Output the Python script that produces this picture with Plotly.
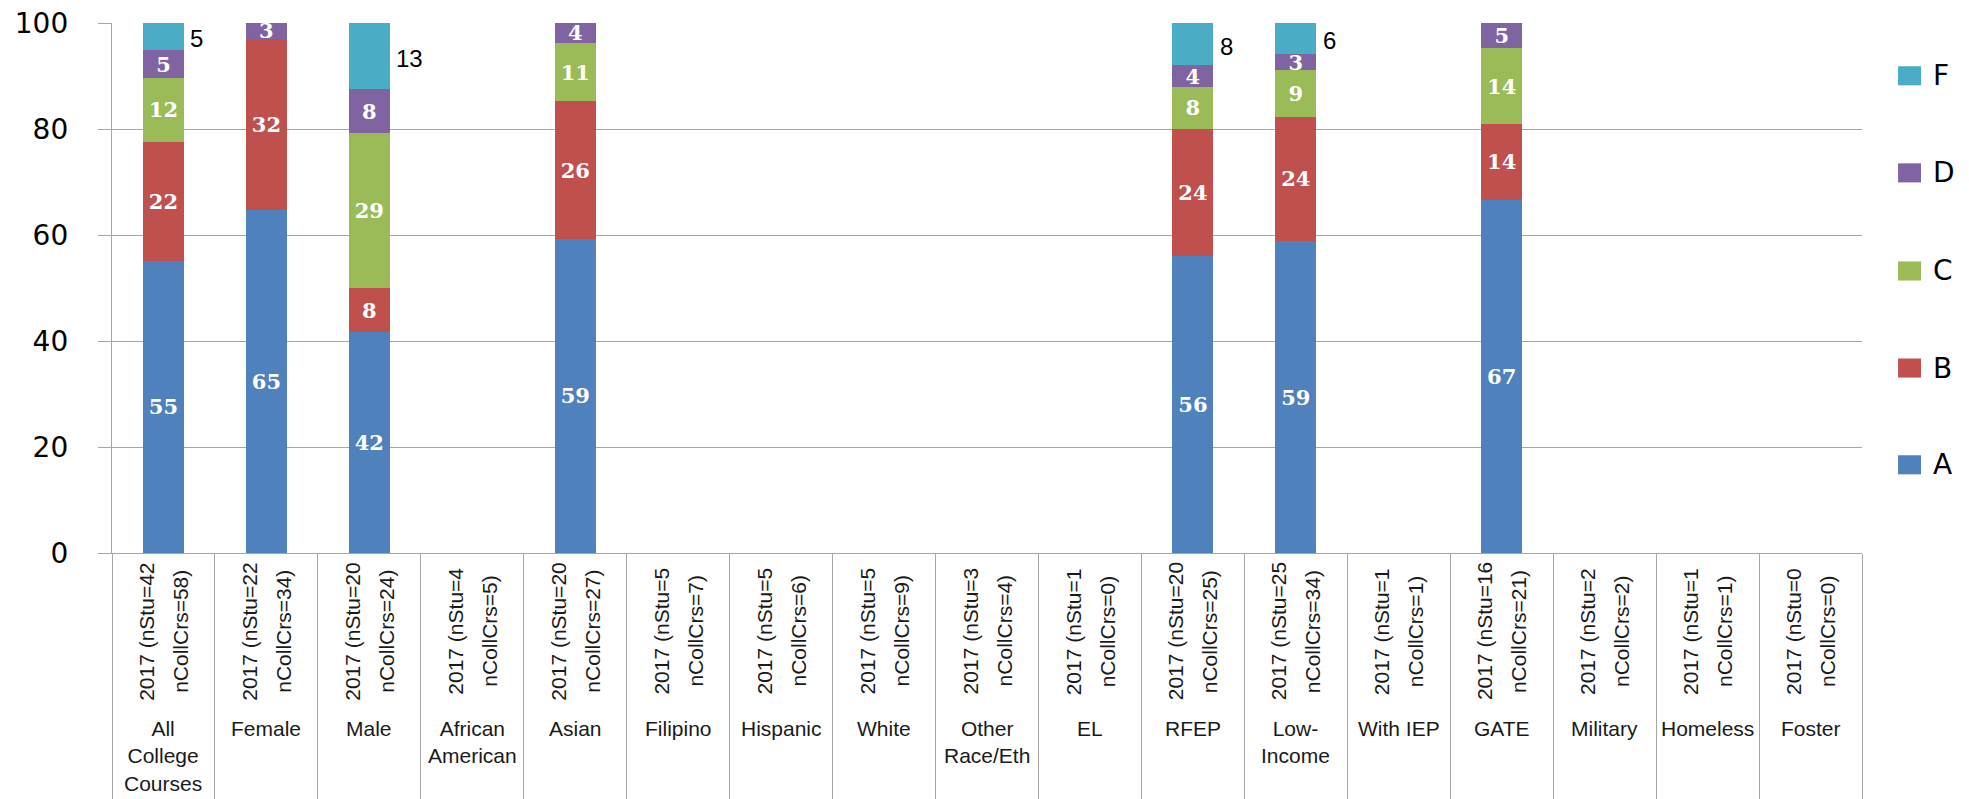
import plotly.graph_objects as go

# ---------------- data ----------------
categories = ["All College Courses", "Female", "Male", "African American", "Asian",
              "Filipino", "Hispanic", "White", "Other Race/Eth", "EL", "RFEP",
              "Low-Income", "With IEP", "GATE", "Military", "Homeless", "Foster"]
group_labels = ["All<br>College<br>Courses", "Female", "Male", "African<br>American", "Asian",
                "Filipino", "Hispanic", "White", "Other<br>Race/Eth", "EL", "RFEP",
                "Low-<br>Income", "With IEP", "GATE", "Military", "Homeless", "Foster"]
year = "2017"
n_stu = [42, 22, 20, 4, 20, 5, 5, 5, 3, 1, 20, 25, 1, 16, 2, 1, 0]
n_coll_crs = [58, 34, 24, 5, 27, 7, 6, 9, 4, 0, 25, 34, 1, 21, 2, 1, 0]

grade_A = [55.17, 64.71, 41.67, None, 59.26, None, None, None, None, None, 56.0, 58.82, None, 66.67, None, None, None]
grade_B = [22.41, 32.35, 8.33, None, 25.93, None, None, None, None, None, 24.0, 23.53, None, 14.29, None, None, None]
grade_C = [12.07, None, 29.17, None, 11.11, None, None, None, None, None, 8.0, 8.82, None, 14.29, None, None, None]
grade_D = [5.17, 2.94, 8.33, None, 3.70, None, None, None, None, None, 4.0, 2.94, None, 4.76, None, None, None]
grade_F = [5.17, None, 12.5, None, None, None, None, None, None, None, 8.0, 5.88, None, None, None, None, None]

series = [("A", grade_A, "#4F81BD"), ("B", grade_B, "#C0504D"), ("C", grade_C, "#9BBB59"),
          ("D", grade_D, "#8064A2"), ("F", grade_F, "#4BACC6")]

y_ticks = [0, 20, 40, 60, 80, 100]

# ---------------- styles ----------------
GRID = "#A6A6A6"
TEXT_FONT = "Liberation Sans, Arial, sans-serif"
BAR_LABEL_FONT = "DejaVu Serif, serif"
AXIS_FONT = "DejaVu Sans, sans-serif"


def fmt(v):
    return str(int(v + 0.5))


fig = go.Figure()
for name, vals, color in series:
    inside = name != "F"
    fig.add_trace(go.Bar(
        x=categories, y=vals, name=name,
        marker=dict(color=color, line=dict(width=0)),
        text=[fmt(v) if (v is not None and inside) else "" for v in vals],
        texttemplate="%{text}",
        textposition="inside" if inside else "none",
        insidetextanchor="middle",
        textangle=0,
        constraintext="none",
        textfont=dict(family=BAR_LABEL_FONT, size=21, color="white", weight="bold"),
        showlegend=False,
        hoverinfo="x+y+name",
    ))

annotations = []
# F labels outside, to the right of each bar
for i, cat in enumerate(categories):
    f = grade_F[i]
    if f is None:
        continue
    base = sum(v[i] for v in (grade_A, grade_B, grade_C, grade_D) if v[i] is not None)
    annotations.append(dict(
        x=cat, y=base + f / 2, xref="x", yref="y", text=fmt(f),
        showarrow=False, xanchor="left", yanchor="middle", xshift=25, yshift=-2,
        font=dict(family=TEXT_FONT, size=24, color="black")))

# category labels (two levels)
for i, cat in enumerate(categories):
    lines = [f"{year} (nStu={n_stu[i]}", f"nCollCrs={n_coll_crs[i]})"]
    for j, line in enumerate(lines):
        annotations.append(dict(
            x=cat, y=-0.1479, xref="x", yref="paper", text=line,
            textangle=-90, showarrow=False, xanchor="center", yanchor="middle",
            xshift=-17 if j == 0 else 17,
            font=dict(family=TEXT_FONT, size=21, color="#1a1a1a")))
    annotations.append(dict(
        x=cat, y=-0.305, xref="x", yref="paper", text=group_labels[i],
        showarrow=False, xanchor="center", yanchor="top", align="center",
        font=dict(family=TEXT_FONT, size=21, color="#1a1a1a")))

# manual legend (F at top down to A)
legend_y = {"F": 0.9004, "D": 0.7172, "C": 0.5321, "B": 0.3490, "A": 0.1664}
shapes = []
for name, vals, color in series:
    yc = legend_y[name]
    shapes.append(dict(type="rect", xref="paper", yref="paper",
                       x0=1.0206, x1=1.0337, y0=yc - 0.018, y1=yc + 0.018,
                       fillcolor=color, line=dict(width=0)))
    annotations.append(dict(x=1.0395, y=yc, xref="paper", yref="paper", text=name,
                            showarrow=False, xanchor="left", yanchor="middle",
                            font=dict(family=AXIS_FONT, size=28, color="black")))

fig.update_layout(
    barmode="stack",
    bargap=0.60,
    width=1969, height=799,
    margin=dict(l=112, r=107, t=23, b=246, autoexpand=False),
    paper_bgcolor="white", plot_bgcolor="white",
    annotations=annotations,
    shapes=shapes,
    xaxis=dict(
        type="category", categoryorder="array", categoryarray=categories,
        range=[-0.5, len(categories) - 0.5],
        showticklabels=False, tickson="boundaries", ticks="outside",
        ticklen=250, tickcolor=GRID, tickwidth=1.3,
        showline=True, linecolor=GRID, linewidth=1.3,
        showgrid=False, zeroline=False, fixedrange=True,
    ),
    yaxis=dict(
        range=[0, 100], tickvals=y_ticks, ticktext=[str(t) for t in y_ticks],
        ticks="outside", ticklen=13, tickcolor=GRID, tickwidth=1.3,
        ticklabelstandoff=24, ticklabeloverflow="allow",
        showline=True, linecolor=GRID, linewidth=1.3,
        showgrid=True, gridcolor=GRID, gridwidth=1.3, zeroline=False,
        tickfont=dict(family=AXIS_FONT, size=28, color="black"),
        fixedrange=True,
    ),
)

fig.write_html("out.html", config={"displayModeBar": False},
               post_script="document.body.style.margin='0';")
